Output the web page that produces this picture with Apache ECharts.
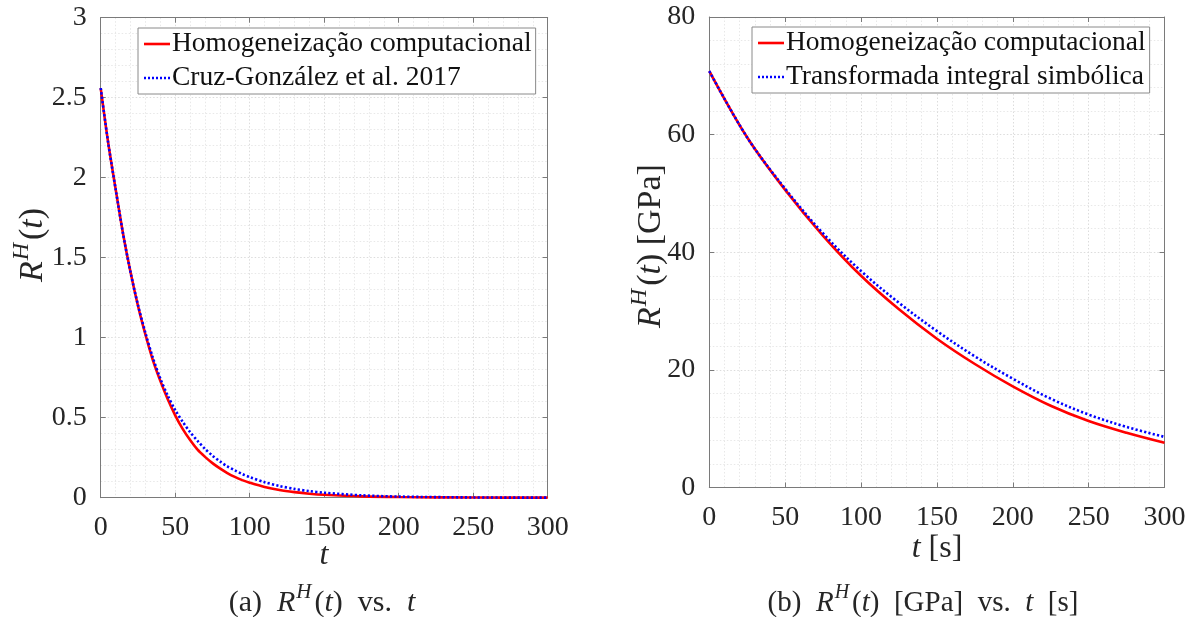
<!DOCTYPE html>
<html><head><meta charset="utf-8">
<script src="https://cdn.jsdelivr.net/npm/echarts@6/dist/echarts.min.js"></script>
<style>html,body{margin:0;padding:0;background:#fff}#c{width:1195px;height:617px}</style>
</head><body><div id="c"></div>
<script>
// ---- data ----
const tLeft   = [0, 5, 10, 15, 20, 25, 30, 35, 40, 45, 50, 55, 60, 65, 70, 75, 80, 85, 90, 95, 100, 110, 120, 130, 140, 150, 175, 200, 250, 300];
const redLeft = [2.56, 2.22, 1.93, 1.65, 1.41, 1.20, 1.02, 0.86, 0.73, 0.615, 0.515, 0.43, 0.36, 0.30, 0.255, 0.216, 0.183, 0.154, 0.13, 0.11, 0.094, 0.067, 0.048, 0.035, 0.025, 0.018, 0.008, 0.004, 0.001, 0.0002];
const blueLeft= [2.56, 2.22, 1.93, 1.65, 1.41, 1.205, 1.03, 0.875, 0.745, 0.638, 0.548, 0.475, 0.41, 0.355, 0.305, 0.263, 0.227, 0.196, 0.171, 0.148, 0.129, 0.097, 0.073, 0.055, 0.041, 0.031, 0.015, 0.007, 0.0015, 0.0003];

const tRight   = [0, 25, 50, 75, 100, 125, 150, 175, 200, 225, 250, 275, 300];
const redRight = [70.8, 59.5, 50.6, 42.8, 36.0, 30.3, 25.3, 21.0, 17.2, 13.9, 11.3, 9.3, 7.6];
const blueRight= [70.8, 59.5, 50.8, 43.2, 36.8, 31.4, 26.6, 22.3, 18.5, 15.1, 12.4, 10.3, 8.6];

const nameRed = 'Homogeneização computacional';
const nameBlueLeft = 'Cruz-González et al. 2017';
const nameBlueRight = 'Transformada integral simbólica';

const xTickInterval = 50, xMax = 300;
const yLeftMax = 3, yLeftInterval = 0.5;
const yRightMax = 80, yRightInterval = 20;

// ---- styling ----
const FONT = '"Liberation Serif", "Times New Roman", serif';
const AX = '#7a7a7a';
const TXT = '#262626';
const pairs = (xs, ys) => xs.map((x, i) => [x, ys[i]]);

const G = [
  {left: 100.7, top: 17.7, width: 447, height: 480},
  {left: 709.3, top: 17, width: 455.2, height: 470.5}
];

function mainX(gi) {
  return {type: 'value', gridIndex: gi, min: 0, max: xMax, interval: xTickInterval, position: 'bottom',
    axisLine: {show: true, onZero: false, lineStyle: {color: AX, width: 1}},
    axisTick: {show: true, inside: true, length: 5, lineStyle: {color: AX}},
    minorTick: {show: false, splitNumber: 5},
    axisLabel: {fontFamily: FONT, fontSize: 28, color: TXT, margin: 16},
    splitLine: {show: true, lineStyle: {color: '#dcdcdc', type: [1.5, 2], width: 1}},
    minorSplitLine: {show: true, lineStyle: {color: '#e8e8e8', type: [1.5, 2], width: 1}}
  };
}
function topX(gi) {
  return {type: 'value', gridIndex: gi, min: 0, max: xMax, interval: xTickInterval, position: 'top',
    axisLine: {show: true, onZero: false, lineStyle: {color: AX, width: 1}},
    axisTick: {show: true, inside: true, length: 5, lineStyle: {color: AX}},
    axisLabel: {show: false}, splitLine: {show: false}};
}
function mainY(gi, max, interval) {
  return {type: 'value', gridIndex: gi, min: 0, max: max, interval: interval, position: 'left',
    axisLine: {show: true, onZero: false, lineStyle: {color: AX, width: 1}},
    axisTick: {show: true, inside: true, length: 5, lineStyle: {color: AX}},
    minorTick: {show: false, splitNumber: 5},
    axisLabel: {fontFamily: FONT, fontSize: 28, color: TXT, margin: 14},
    splitLine: {show: true, lineStyle: {color: '#dcdcdc', type: [1.5, 2], width: 1}},
    minorSplitLine: {show: true, lineStyle: {color: '#e8e8e8', type: [1.5, 2], width: 1}}
  };
}
function rightY(gi, max, interval) {
  return {type: 'value', gridIndex: gi, min: 0, max: max, interval: interval, position: 'right',
    axisLine: {show: true, onZero: false, lineStyle: {color: AX, width: 1}},
    axisTick: {show: true, inside: true, length: 5, lineStyle: {color: AX}},
    axisLabel: {show: false}, splitLine: {show: false}};
}

function makeRich(fs) {
  return {
    n:   {fontFamily: FONT, fontSize: fs, color: TXT, lineHeight: fs + 6, verticalAlign: 'bottom'},
    i:   {fontFamily: FONT, fontSize: fs, color: TXT, fontStyle: 'italic', lineHeight: fs + 6, verticalAlign: 'bottom'},
    sup: {fontFamily: FONT, fontSize: Math.round(fs * 0.7), color: TXT, fontStyle: 'italic',
          lineHeight: Math.round(fs * 0.7), verticalAlign: 'top', padding: [0, 3, 0, 1]}
  };
}
function label(x, y, text, fs, rot) {
  return {type: 'text', x: x, y: y, rotation: rot || 0, silent: true,
    style: {text: text, rich: makeRich(fs), align: 'center', verticalAlign: 'middle', fill: TXT}};
}

const lineRed = {color: '#ff0000', width: 2.6, type: 'solid'};
const lineBlue = {color: '#0000ff', width: 2.6, type: [2.2, 2.2], cap: 'butt'};

const ICON_SOLID = 'path://M0,0H26V2.6H0Z';
const ICON_DOTTED = 'path://M0,0h2v2.6h-2zM4,0h2v2.6h-2zM8,0h2v2.6h-2zM12,0h2v2.6h-2zM16,0h2v2.6h-2zM20,0h2v2.6h-2zM24,0h2v2.6h-2z';

const legendCommon = {orient: 'vertical', backgroundColor: '#ffffff', borderColor: '#8a8a8a', borderWidth: 1,
  padding: [2, 4, 2, 6], itemWidth: 26, itemHeight: 2.6, itemGap: 6, selectedMode: false,
  textStyle: {fontFamily: FONT, fontSize: 27.5, color: '#111', padding: [0, 0, 0, -3]}};

const option = {
  animation: false,
  backgroundColor: '#ffffff',
  grid: G.map(g => Object.assign({containLabel: false}, g)),
  xAxis: [mainX(0), topX(0), mainX(1), topX(1)],
  yAxis: [mainY(0, yLeftMax, yLeftInterval), rightY(0, yLeftMax, yLeftInterval),
          mainY(1, yRightMax, yRightInterval), rightY(1, yRightMax, yRightInterval)],
  legend: [
    Object.assign({}, legendCommon, {left: 138, top: 28,
      data: [{name: nameRed, icon: ICON_SOLID}, {name: nameBlueLeft, icon: ICON_DOTTED}]}),
    Object.assign({}, legendCommon, {left: 752, top: 27,
      data: [{name: nameRed, icon: ICON_SOLID}, {name: nameBlueRight, icon: ICON_DOTTED}]})
  ],
  series: [
    {name: nameRed, type: 'line', xAxisIndex: 0, yAxisIndex: 0, data: pairs(tLeft, redLeft),
     symbol: 'none', smooth: 0.3, lineStyle: lineRed, itemStyle: {color: '#ff0000'}, z: 3},
    {name: nameBlueLeft, type: 'line', xAxisIndex: 0, yAxisIndex: 0, data: pairs(tLeft, blueLeft),
     symbol: 'none', smooth: 0.3, lineStyle: lineBlue, itemStyle: {color: '#0000ff'}, z: 4},
    {name: nameRed, type: 'line', xAxisIndex: 2, yAxisIndex: 2, data: pairs(tRight, redRight),
     symbol: 'none', smooth: 0.35, lineStyle: lineRed, itemStyle: {color: '#ff0000'}, z: 3},
    {name: nameBlueRight, type: 'line', xAxisIndex: 2, yAxisIndex: 2, data: pairs(tRight, blueRight),
     symbol: 'none', smooth: 0.35, lineStyle: lineBlue, itemStyle: {color: '#0000ff'}, z: 4}
  ],
  graphic: [
    label(30, 245, '{i|R}{sup|H}{n|(}{i|t}{n|)}', 34, Math.PI / 2),
    label(648, 246, '{i|R}{sup|H}{n|(}{i|t}{n|) [GPa]}', 34, Math.PI / 2),
    label(324, 553, '{i|t}', 32),
    label(937, 546, '{i|t}{n| [s]}', 32),
    label(322, 600, '{n|(a)  }{i|R}{sup|H}{n|(}{i|t}{n|)  vs.  }{i|t}', 30),
    label(923, 600, '{n|(b)  }{i|R}{sup|H}{n|(}{i|t}{n|)  [GPa]  vs.  }{i|t}{n|  [s]}', 29)
  ]
};
const chart = echarts.init(document.getElementById('c'), null, {renderer: 'canvas'});
chart.setOption(option);
</script></body></html>
